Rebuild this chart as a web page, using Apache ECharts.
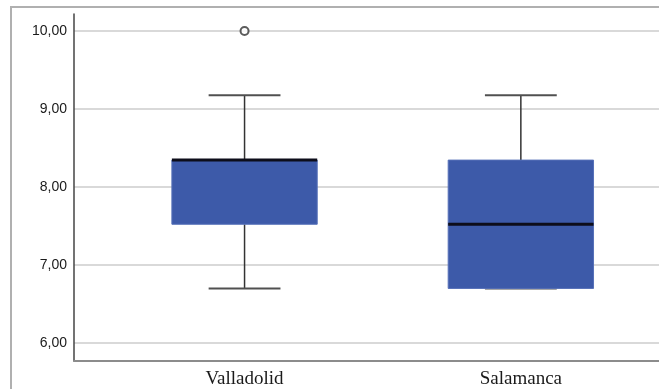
<!DOCTYPE html>
<html>
<head>
<meta charset="utf-8">
<script src="https://cdn.jsdelivr.net/npm/echarts@6/dist/echarts.min.js"></script>
<style>
html,body{margin:0;padding:0;background:#fff;}
#chart{width:659px;height:389px;}
</style>
</head>
<body>
<div id="chart"></div>
<script>
// ---- data ----
const categories = ['Valladolid', 'Salamanca'];
const whiskerLow = [6.67, 6.67];
const q1 = [7.5, 6.67];
const median = [8.33, 7.5];
const q3 = [8.33, 8.33];
const whiskerHigh = [9.17, 9.17];
const outliers = [[0, 10.0]];
const yTickMin = 6, yTickMax = 10, yTickStep = 1;

const boxData = categories.map((c, i) => [i, whiskerLow[i], q1[i], median[i], q3[i], whiskerHigh[i]]);

const chart = echarts.init(document.getElementById('chart'), null, {renderer: 'canvas'});

// plot extent (value range shown by the frame of the plot)
const yMin = 5.77, yMax = 10.22;
const pxPerUnit = 78;
const plotTop = 14, plotH = (yMax - yMin) * pxPerUnit;
const tickTop = plotTop + (yMax - yTickMax) * pxPerUnit;
const tickH = (yTickMax - yTickMin) * pxPerUnit;

const option = {
  animation: false,
  backgroundColor: '#fff',
  graphic: [{
    type: 'rect', z: 100, silent: true,
    shape: {x: 11, y: 7, width: 700, height: 420},
    style: {fill: 'none', stroke: '#b0b0b0', lineWidth: 2}
  }],
  grid: [
    {left: 106.4, top: plotTop, width: 558.6, height: plotH},   // boxes
    {left: 74, top: plotTop, width: 600, height: plotH},         // axis lines
    {left: 74, top: tickTop, width: 600, height: tickH}          // ticks + gridlines
  ],
  xAxis: [
    {
      type: 'category', gridIndex: 0, data: categories, boundaryGap: true,
      axisLine: {show: false}, axisTick: {show: false}, splitLine: {show: false},
      axisLabel: {margin: 12, color: '#1a1a1a', fontFamily: '"Liberation Serif", "Times New Roman", serif', fontSize: 19}
    },
    {
      type: 'value', gridIndex: 1, min: 0, max: 1,
      axisLine: {show: true, onZero: false, lineStyle: {color: '#8c8c8c', width: 2}},
      axisTick: {show: false}, axisLabel: {show: false}, splitLine: {show: false}
    },
    {
      type: 'value', gridIndex: 2, min: 0, max: 1, show: false, splitLine: {show: false}
    }
  ],
  yAxis: [
    {type: 'value', gridIndex: 0, min: yMin, max: yMax, show: false, splitLine: {show: false}},
    {
      type: 'value', gridIndex: 1, min: yMin, max: yMax,
      axisLine: {show: true, lineStyle: {color: '#444', width: 1.5}},
      axisTick: {show: false}, axisLabel: {show: false}, splitLine: {show: false}
    },
    {
      type: 'value', gridIndex: 2, min: yTickMin, max: yTickMax, interval: yTickStep,
      axisLine: {show: false},
      axisTick: {show: false},
      axisLabel: {
        margin: 7, color: '#1a1a1a', fontFamily: '"Liberation Sans", Arial, sans-serif', fontSize: 14,
        formatter: v => v.toFixed(2).replace('.', ',')
      },
      splitLine: {show: true, lineStyle: {color: '#d9d9d9', width: 2}}
    }
  ],
  series: [
    {
      type: 'custom', xAxisIndex: 0, yAxisIndex: 0,
      data: boxData,
      encode: {x: 0, y: [1, 2, 3, 4, 5]},
      renderItem: function (params, api) {
        const x = api.value(0);
        const pMin = api.coord([x, api.value(1)]);
        const pQ1 = api.coord([x, api.value(2)]);
        const pMed = api.coord([x, api.value(3)]);
        const pQ3 = api.coord([x, api.value(4)]);
        const pMax = api.coord([x, api.value(5)]);
        const band = api.size([1, 0])[0];
        const bw = band * 0.526, cw = band * 0.26;
        const cx = pMed[0];
        const wStyle = {stroke: '#333', lineWidth: 1.5};
        const cStyle = {stroke: '#505050', lineWidth: 2};
        return {
          type: 'group',
          children: [
            {type: 'line', shape: {x1: cx, y1: pMax[1], x2: cx, y2: pQ3[1]}, style: wStyle},
            {type: 'line', shape: {x1: cx, y1: pQ1[1], x2: cx, y2: pMin[1]}, style: wStyle},
            {type: 'line', shape: {x1: cx - cw / 2, y1: pMax[1], x2: cx + cw / 2, y2: pMax[1]}, style: cStyle},
            {type: 'line', shape: {x1: cx - cw / 2, y1: pMin[1], x2: cx + cw / 2, y2: pMin[1]}, style: cStyle},
            {type: 'rect', shape: {x: cx - bw / 2, y: pQ3[1], width: bw, height: pQ1[1] - pQ3[1]}, style: {fill: '#3d5aa9', stroke: '#5670b8', lineWidth: 1}},
            {type: 'line', shape: {x1: cx - bw / 2, y1: pMed[1], x2: cx + bw / 2, y2: pMed[1]}, style: {stroke: '#0d0d1a', lineWidth: 3}}
          ]
        };
      }
    },
    {
      type: 'scatter', xAxisIndex: 0, yAxisIndex: 0,
      data: outliers,
      symbol: 'circle', symbolSize: 8,
      itemStyle: {color: '#fff', borderColor: '#333', borderWidth: 2}
    }
  ]
};

chart.setOption(option);
</script>
</body>
</html>
